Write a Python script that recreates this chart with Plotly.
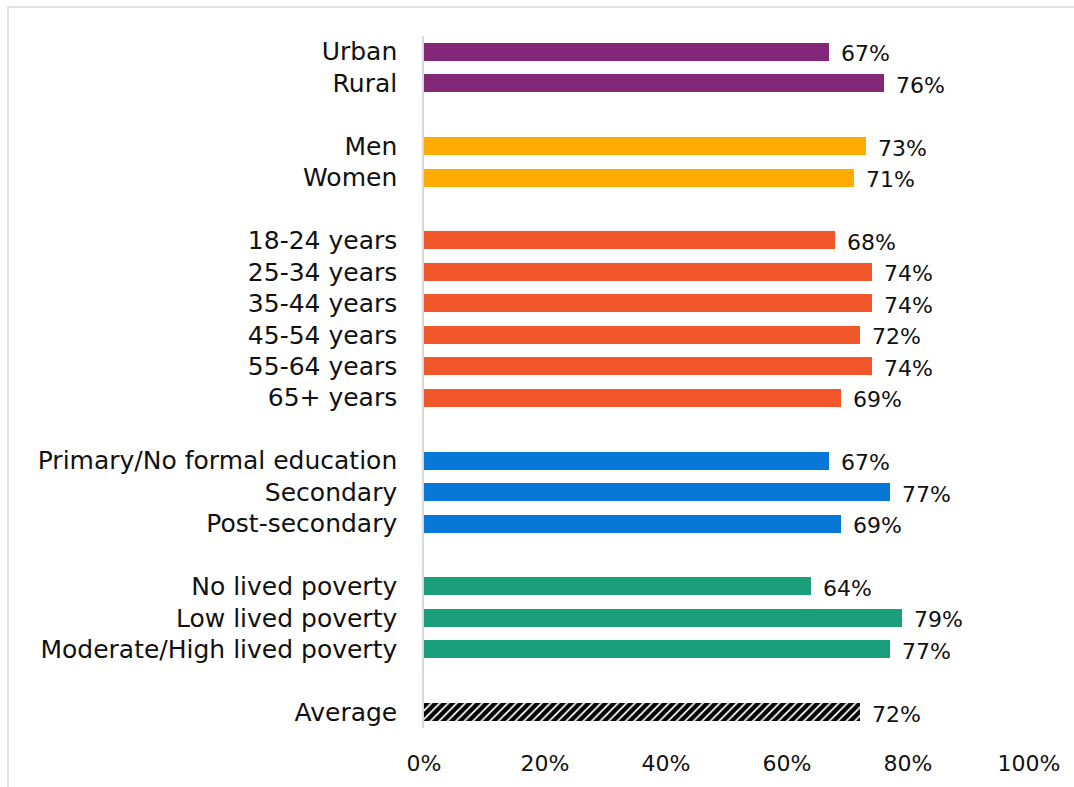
import plotly.graph_objects as go

# Groups of respondents and the share (%) in each
urban_rural = ["Urban", "Rural"]
urban_rural_vals = [67, 76]

gender = ["Men", "Women"]
gender_vals = [73, 71]

age = ["18-24 years", "25-34 years", "35-44 years", "45-54 years", "55-64 years", "65+ years"]
age_vals = [68, 74, 74, 72, 74, 69]

education = ["Primary/No formal education", "Secondary", "Post-secondary"]
education_vals = [67, 77, 69]

poverty = ["No lived poverty", "Low lived poverty", "Moderate/High lived poverty"]
poverty_vals = [64, 79, 77]

average = ["Average"]
average_vals = [72]

x_ticks = [0, 20, 40, 60, 80, 100]

groups = [
    (urban_rural, urban_rural_vals, "#832878"),
    (gender, gender_vals, "#FFAB00"),
    (age, age_vals, "#F1572A"),
    (education, education_vals, "#0878D8"),
    (poverty, poverty_vals, "#1B9E7A"),
    (average, average_vals, None),
]

FONT = "DejaVu Sans"
TXT = "#111111"

fig = go.Figure()
row = 0
tickvals, ticktext = [], []
annotations = []
for labels, vals, color in groups:
    rows = list(range(row, row + len(labels)))
    if color is None:
        marker = dict(color="white",
                      pattern=dict(shape="/", fgcolor="#000000", bgcolor="white",
                                   size=6, solidity=0.7, fgopacity=1))
    else:
        marker = dict(color=color)
    fig.add_trace(go.Bar(
        x=vals, y=rows, orientation="h", width=0.57,
        marker=marker, marker_line_width=0, hoverinfo="skip",
    ))
    for r, lab, v in zip(rows, labels, vals):
        tickvals.append(r)
        ticktext.append(lab)
        annotations.append(dict(
            x=v, y=r, xref="x", yref="y", text=f"{v}%", showarrow=False,
            xanchor="left", yanchor="middle", xshift=10, yshift=-2,
            font=dict(family=FONT, size=22, color=TXT),
        ))
    row += len(labels) + 1
n_rows = row - 1

# Plot area geometry in pixels
W, H = 1074, 787
L, R, T, B = 424, 45, 36, 59
pw, ph = W - L - R, H - T - B

def px_x(p):
    return (p - L) / pw

def px_y(p):
    return (H - B - p) / ph

fig.update_layout(
    width=W, height=H,
    margin=dict(l=L, r=R, t=T, b=B),
    paper_bgcolor="white", plot_bgcolor="white",
    showlegend=False, bargap=0,
    font=dict(family=FONT, size=22, color=TXT),
    annotations=annotations,
    shapes=[dict(type="rect", xref="paper", yref="paper",
                 x0=px_x(8), x1=px_x(1090), y0=px_y(800), y1=px_y(7),
                 line=dict(color="#d9d9d9", width=1.5), fillcolor="rgba(0,0,0,0)",
                 layer="below")],
)
fig.update_xaxes(
    range=[0, 100], tickvals=x_ticks, ticktext=[f"{t}%" for t in x_ticks],
    showgrid=False, zeroline=False, showline=False,
    ticks="", ticklabelstandoff=20, fixedrange=True,
    tickfont=dict(family=FONT, size=22, color=TXT),
)
fig.update_yaxes(
    range=[n_rows - 1 + 0.5, -0.5], tickvals=tickvals, ticktext=ticktext,
    showgrid=False, zeroline=False, showline=True, linecolor="#d9d9d9", linewidth=1.5,
    ticks="", ticklabelstandoff=20, fixedrange=True,
    tickfont=dict(family=FONT, size=25, color=TXT),
)

fig.write_html("out.html")
